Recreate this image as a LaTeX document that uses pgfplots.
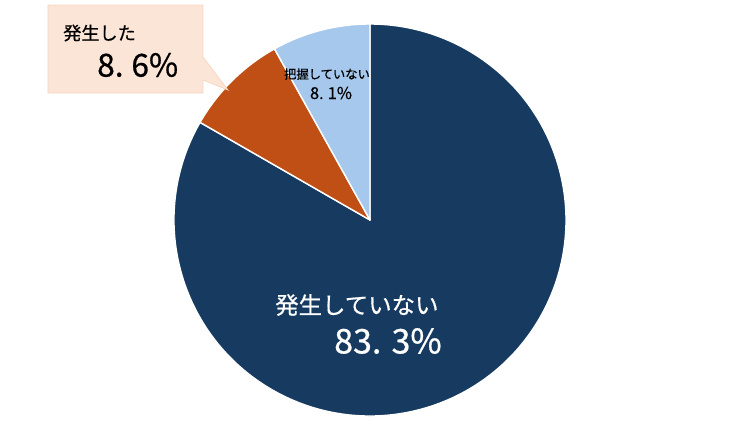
\documentclass[border=0pt]{standalone}
\usepackage{pgfplots}
\pgfplotsset{compat=1.18}
\usepackage{pgfplotstable}
\usepackage{fontspec}
\setmainfont{Noto Sans CJK JP}[FakeBold=0.6]
\definecolor{darkb}{HTML}{173B60}
\definecolor{orng}{HTML}{C04F15}
\definecolor{lblue}{HTML}{A6C8EC}
\definecolor{peach}{HTML}{FBE5D6}
\definecolor{peachb}{HTML}{F8D5BF}
\pgfplotstableread{
value
83.3
8.6
8.1
}\piedata
\pgfplotstablegetelem{0}{value}\of\piedata \let\vA\pgfplotsretval
\pgfplotstablegetelem{1}{value}\of\piedata \let\vB\pgfplotsretval
\pgfplotstablegetelem{2}{value}\of\piedata \let\vC\pgfplotsretval
\pgfmathsetmacro{\aOne}{90+\vC*3.6}
\pgfmathsetmacro{\aTwo}{\aOne+\vB*3.6}
\pgfmathsetmacro{\aThree}{\aTwo+\vA*3.6}
\begin{document}%
\begin{tikzpicture}
\begin{axis}[x=0.03cm, y=0.03cm, xmin=0, xmax=740, ymin=0, ymax=441,
  hide axis, clip=false, anchor=origin, at={(0,0)}]
\fill[darkb, draw=white, line width=1.2pt, line join=round] (axis cs:370,221) -- ++(\aTwo:5.88cm) arc[start angle=\aTwo, end angle=\aThree, radius=5.88cm] -- cycle;
\fill[orng, draw=white, line width=1.2pt, line join=round] (axis cs:370,221) -- ++(\aOne:5.88cm) arc[start angle=\aOne, end angle=\aTwo, radius=5.88cm] -- cycle;
\fill[lblue, draw=white, line width=1.2pt, line join=round] (axis cs:370,221) -- ++(90:5.88cm) arc[start angle=90, end angle=\aOne, radius=5.88cm] -- cycle;
\filldraw[fill=peach, draw=peachb, line width=0.6pt] (axis cs:48,436) -- (axis cs:203,436) -- (axis cs:203,384) -- (axis cs:228,351) -- (axis cs:203,361) -- (axis cs:203,348) -- (axis cs:48,348) -- cycle;
\node[anchor=west, font=\fontsize{15.5}{18}\selectfont, inner sep=0pt] at (axis cs:63,408) {発生した};
\node[anchor=west, font=\fontsize{27}{30}\selectfont, inner sep=0pt] at (axis cs:97,376) {8.\hspace{0.25em}6\%};
\node[anchor=center, font=\fontsize{10.5}{12}\selectfont, inner sep=0pt] at (axis cs:327,367) {把握していない};
\node[anchor=center, font=\fontsize{14}{16}\selectfont, inner sep=0pt] at (axis cs:331,348) {8.\hspace{0.25em}1\%};
\node[anchor=west, text=white, font=\fontsize{20}{22}\selectfont, inner sep=0pt] at (axis cs:275,136) {発生していない};
\node[anchor=west, text=white, font=\fontsize{29}{32}\selectfont, inner sep=0pt] at (axis cs:334,100) {83.\hspace{0.3em}3\%};
\end{axis}
\pgfresetboundingbox
\path (0,0) rectangle (22.2cm,13.23cm);
\end{tikzpicture}%
\end{document}
